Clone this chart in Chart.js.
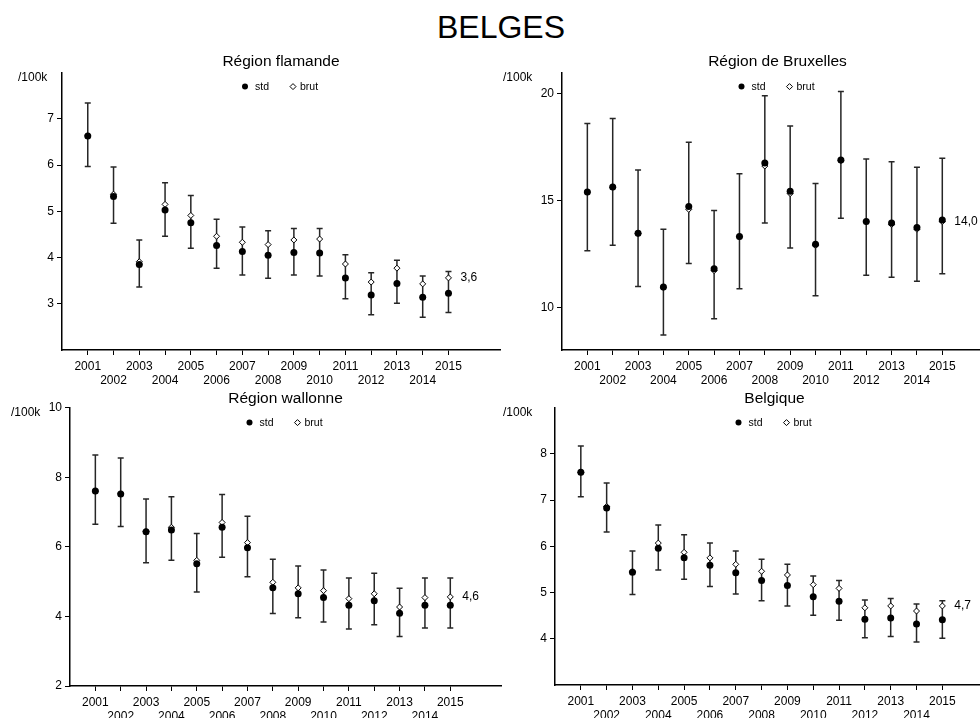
<!DOCTYPE html>
<html>
<head>
<meta charset="utf-8">
<script src="https://cdn.jsdelivr.net/npm/chart.js@4.4.1/dist/chart.umd.min.js"></script>
<style>
  html, body { margin: 0; padding: 0; background: #fff; }
  body { width: 980px; height: 718px; overflow: hidden; position: relative; font-family: "Liberation Sans", Arial, sans-serif; }
  #heading { position: absolute; left: 0; top: 11px; width: 1002px; text-align: center; font-size: 32px; line-height: 32px; color: #000; }
  canvas { position: absolute; }
</style>
</head>
<body>
<div id="heading">BELGES</div>
<canvas id="c1"></canvas>
<canvas id="c2"></canvas>
<canvas id="c3"></canvas>
<canvas id="c4"></canvas>
<script>
// years on the x axis
const years = [2001, 2002, 2003, 2004, 2005, 2006, 2007, 2008, 2009, 2010, 2011, 2012, 2013, 2014, 2015];

// Région flamande
const flStd  = [6.63, 5.32, 3.85, 5.03, 4.75, 4.26, 4.13, 4.05, 4.11, 4.10, 3.56, 3.19, 3.44, 3.14, 3.23];
const flBrut = [6.63, 5.37, 3.91, 5.15, 4.91, 4.46, 4.33, 4.28, 4.38, 4.40, 3.86, 3.47, 3.77, 3.43, 3.56];
const flLow  = [5.97, 4.74, 3.36, 4.46, 4.20, 3.77, 3.62, 3.55, 3.62, 3.60, 3.11, 2.76, 3.01, 2.71, 2.81];
const flHigh = [7.34, 5.96, 4.38, 5.62, 5.34, 4.83, 4.66, 4.58, 4.63, 4.63, 4.06, 3.67, 3.94, 3.60, 3.70];

// Région de Bruxelles
const bxStd  = [15.40, 15.64, 13.47, 10.95, 14.73, 11.81, 13.32, 16.76, 15.44, 12.96, 16.90, 14.02, 13.95, 13.74, 14.09];
const bxBrut = [15.40, 15.62, 13.45, 10.92, 14.59, 11.72, 13.30, 16.62, 15.33, 12.91, 16.87, 14.00, 13.89, 13.66, 14.02];
const bxLow  = [12.65, 12.91, 10.98, 8.70, 12.05, 9.46, 10.87, 13.95, 12.78, 10.54, 14.17, 11.50, 11.41, 11.22, 11.57];
const bxHigh = [18.62, 18.85, 16.43, 13.66, 17.74, 14.54, 16.26, 19.92, 18.50, 15.80, 20.12, 16.95, 16.82, 16.57, 16.99];

// Région wallonne
const waStd  = [7.60, 7.52, 6.43, 6.48, 5.51, 6.56, 5.97, 4.82, 4.65, 4.54, 4.32, 4.45, 4.09, 4.32, 4.32];
const waBrut = [7.60, 7.52, 6.44, 6.56, 5.61, 6.70, 6.12, 4.98, 4.82, 4.74, 4.51, 4.65, 4.27, 4.54, 4.56];
const waLow  = [6.65, 6.58, 5.54, 5.61, 4.70, 5.70, 5.14, 4.08, 3.96, 3.84, 3.64, 3.76, 3.42, 3.67, 3.67];
const waHigh = [8.64, 8.55, 7.37, 7.44, 6.38, 7.50, 6.88, 5.64, 5.45, 5.33, 5.10, 5.24, 4.81, 5.10, 5.10];

// Belgique
const beStd  = [7.60, 6.83, 5.44, 5.96, 5.75, 5.59, 5.43, 5.26, 5.15, 4.91, 4.81, 4.42, 4.45, 4.32, 4.41];
const beBrut = [7.60, 6.86, 5.46, 6.07, 5.87, 5.75, 5.61, 5.46, 5.38, 5.17, 5.09, 4.67, 4.71, 4.60, 4.71];
const beLow  = [7.07, 6.31, 4.96, 5.49, 5.29, 5.13, 4.97, 4.82, 4.71, 4.51, 4.40, 4.02, 4.05, 3.93, 4.01];
const beHigh = [8.17, 7.37, 5.90, 6.46, 6.25, 6.07, 5.90, 5.72, 5.61, 5.36, 5.26, 4.84, 4.87, 4.75, 4.82];

// y tick labels per panel
const flTicks = [3, 4, 5, 6, 7];
const bxTicks = [10, 15, 20];
const waTicks = [2, 4, 6, 8, 10];
const beTicks = [4, 5, 6, 7, 8];

const FONT = '"Liberation Sans", Arial, sans-serif';
Chart.defaults.font.family = FONT;
Chart.defaults.color = '#000';

// confidence intervals drawn under the markers
const errorBars = {
    id: 'errorBars',
    beforeDatasetsDraw(chart, args, opts) {
        const { ctx, scales: { x, y } } = chart;
        ctx.save();
        ctx.strokeStyle = '#262626';
        ctx.lineWidth = 1.5;
        years.forEach((yr, i) => {
            const px = x.getPixelForValue(yr);
            const top = y.getPixelForValue(opts.high[i]);
            const bot = y.getPixelForValue(opts.low[i]);
            ctx.beginPath();
            ctx.moveTo(px, top); ctx.lineTo(px, bot);
            ctx.moveTo(px - 3, top); ctx.lineTo(px + 3, top);
            ctx.moveTo(px - 3, bot); ctx.lineTo(px + 3, bot);
            ctx.stroke();
        });
        ctx.restore();
    }
};

// legend inside the plot, unit label, last value label
const decor = {
    id: 'decor',
    afterDraw(chart, args, opts) {
        const { ctx, chartArea, scales: { x, y } } = chart;
        const cx = (chartArea.left + chartArea.right) / 2;
        const ly = chartArea.top + opts.legendDy;
        ctx.save();
        ctx.fillStyle = '#000';
        ctx.strokeStyle = '#000';
        ctx.textBaseline = 'middle';
        ctx.textAlign = 'left';
        ctx.font = '10.5px ' + FONT;
        ctx.beginPath();
        ctx.arc(cx - 36, ly, 3, 0, Math.PI * 2);
        ctx.fill();
        ctx.fillText('std', cx - 26, ly + 1);
        ctx.beginPath();
        ctx.moveTo(cx + 12, ly - 3); ctx.lineTo(cx + 15, ly);
        ctx.lineTo(cx + 12, ly + 3); ctx.lineTo(cx + 9, ly);
        ctx.closePath();
        ctx.lineWidth = 1;
        ctx.stroke();
        ctx.fillText('brut', cx + 19, ly + 1);

        ctx.font = '12px ' + FONT;
        ctx.fillText('/100k', chartArea.left + opts.unitDx, chartArea.top + 5);

        const last = opts.brut[opts.brut.length - 1];
        const txt = last.toFixed(1).replace('.', ',');
        ctx.fillText(txt, x.getPixelForValue(years[years.length - 1]) + 12, y.getPixelForValue(last));
        ctx.restore();
    }
};

function makePanel(id, title, std, brut, low, high, yMin, yMax, yTicks, g) {
    const titleSize = 15.5, titleH = titleSize * 1.2 + 2 + g.titlePadB;
    const xAxisH = 42;
    const canvas = document.getElementById(id);
    const w = g.right - g.left + g.yw + 5; // chart.js keeps ~5px on the right
    const h = titleH + (g.bottom - g.top) + xAxisH;
    canvas.width = w;
    canvas.height = h;
    canvas.style.left = (g.left - g.yw) + 'px';
    canvas.style.top = (g.top - titleH) + 'px';

    return new Chart(canvas.getContext('2d'), {
        type: 'scatter',
        data: {
            datasets: [
                {
                    label: 'std',
                    data: years.map((yr, i) => ({ x: yr, y: std[i] })),
                    pointStyle: 'circle',
                    pointRadius: 3.5,
                    pointBackgroundColor: '#000',
                    pointBorderColor: '#000',
                    pointBorderWidth: 0
                },
                {
                    label: 'brut',
                    data: years.map((yr, i) => ({ x: yr, y: brut[i] })),
                    pointStyle: 'rectRot',
                    pointRadius: 3,
                    pointBackgroundColor: '#fff',
                    pointBorderColor: '#000',
                    pointBorderWidth: 1
                }
            ]
        },
        options: {
            responsive: false,
            animation: false,
            layout: { padding: 0 },
            scales: {
                x: {
                    type: 'linear',
                    min: 2000,
                    max: 2017,
                    afterBuildTicks: s => { s.ticks = years.map(v => ({ value: v })); },
                    afterFit: s => { s.height = xAxisH; },
                    grid: { drawOnChartArea: false, drawTicks: true, tickLength: 5, tickColor: '#000', tickWidth: 1 },
                    border: { display: true, color: '#000', width: 1.5 },
                    ticks: {
                        autoSkip: false,
                        maxRotation: 0,
                        padding: 4,
                        font: { size: 12 },
                        color: '#000',
                        callback: v => (v % 2 ? String(v) : ['', String(v)])
                    }
                },
                y: {
                    min: yMin,
                    max: yMax,
                    afterBuildTicks: s => { s.ticks = yTicks.map(v => ({ value: v })); },
                    afterFit: s => { s.width = g.yw; },
                    grid: { drawOnChartArea: false, drawTicks: true, tickLength: 5, tickColor: '#000', tickWidth: 1 },
                    border: { display: true, color: '#000', width: 1.5 },
                    ticks: { padding: 3, font: { size: 12 }, color: '#000' }
                }
            },
            plugins: {
                legend: { display: false },
                tooltip: { enabled: false },
                title: {
                    display: true,
                    text: title,
                    fullSize: false,
                    color: '#000',
                    font: { size: titleSize, weight: 'normal' },
                    padding: { top: 2, bottom: g.titlePadB }
                },
                errorBars: { low: low, high: high },
                decor: { brut: brut, legendDy: g.legendDy, unitDx: g.unitDx }
            }
        },
        plugins: [errorBars, decor]
    });
}

makePanel('c1', 'Région flamande', flStd, flBrut, flLow, flHigh, 2, 8, flTicks,
    { left: 62, top: 73, right: 500, bottom: 351, yw: 62, titlePadB: 2, legendDy: 14, unitDx: -44 });
makePanel('c2', 'Région de Bruxelles', bxStd, bxBrut, bxLow, bxHigh, 8, 21, bxTicks,
    { left: 562, top: 73, right: 993, bottom: 351, yw: 62, titlePadB: 2, legendDy: 14, unitDx: -59 });
makePanel('c3', 'Région wallonne', waStd, waBrut, waLow, waHigh, 2, 10, waTicks,
    { left: 70, top: 408, right: 501, bottom: 687, yw: 70, titlePadB: 0, legendDy: 15, unitDx: -59 });
makePanel('c4', 'Belgique', beStd, beBrut, beLow, beHigh, 3, 9, beTicks,
    { left: 555, top: 408, right: 994, bottom: 686, yw: 60, titlePadB: 0, legendDy: 15, unitDx: -52 });
</script>
</body>
</html>
